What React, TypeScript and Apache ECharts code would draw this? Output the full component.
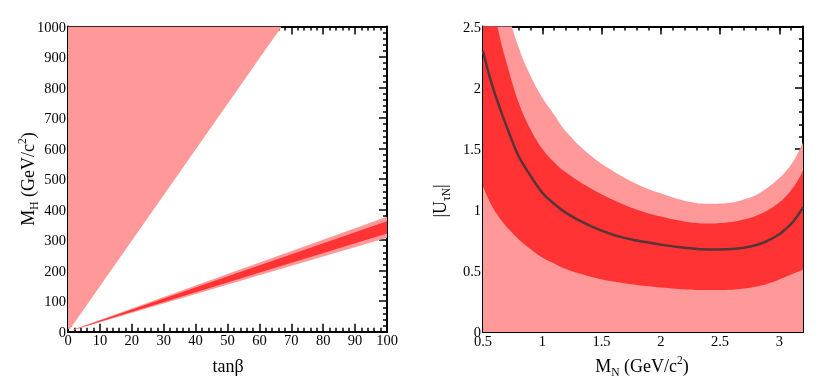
import React, { useEffect, useRef } from "react";
import * as echarts from "echarts";

// ---- Left panel: M_H vs tanβ ----
const TANB = [1.5, 100];
const BAND_OUTER_HI = [6, 377];
const BAND_OUTER_LO = [5, 308];
const BAND_INNER_HI = [5.6, 362];
const BAND_INNER_LO = [5.2, 322];
const EXCL_TANB = [0, 0, 67, 0.7];
const EXCL_MH = [10, 1000, 1000, 10];

// ---- Right panel: |U_τN| vs M_N ----
const MN = [0.5, 0.55, 0.6, 0.65, 0.7, 0.8, 0.9, 1.0, 1.1, 1.2, 1.4, 1.6, 1.8, 2.0, 2.2, 2.4, 2.6, 2.7, 2.8, 2.9, 3.0, 3.05, 3.1, 3.15, 3.2];
const U_CENTRAL = [2.3, 2.11, 1.95, 1.81, 1.68, 1.44, 1.28, 1.14, 1.05, 0.975, 0.87, 0.795, 0.748, 0.715, 0.69, 0.675, 0.68, 0.69, 0.71, 0.745, 0.8, 0.84, 0.885, 0.945, 1.02];
const U_INNER_HI = [3.1, 2.85, 2.6, 2.38, 2.2, 1.88, 1.66, 1.5, 1.39, 1.305, 1.18, 1.08, 1.0, 0.945, 0.905, 0.888, 0.9, 0.92, 0.95, 0.995, 1.06, 1.105, 1.16, 1.23, 1.32];
const U_INNER_LO = [1.19, 1.08, 0.99, 0.92, 0.86, 0.76, 0.68, 0.61, 0.56, 0.515, 0.455, 0.413, 0.385, 0.365, 0.35, 0.343, 0.345, 0.355, 0.37, 0.395, 0.43, 0.45, 0.47, 0.49, 0.51];
const U_OUTER_HI = [3.8, 3.4, 3.1, 2.85, 2.65, 2.33, 2.1, 1.92, 1.78, 1.64, 1.45, 1.315, 1.21, 1.135, 1.075, 1.05, 1.06, 1.085, 1.12, 1.18, 1.26, 1.31, 1.37, 1.45, 1.55];

const LIGHT = "#ff9999";
const DARK = "#ff3333";
const LINE = "#553535";
const FONT = "Liberation Serif";

function polygon(xi: number, yi: number, xs: number[], ys: number[], color: string, z: number) {
  return {
    type: "custom",
    xAxisIndex: xi,
    yAxisIndex: yi,
    clip: true,
    silent: true,
    z,
    data: [0],
    renderItem: (_p: any, api: any) => {
      const pts = xs.map((x, i) => api.coord([x, ys[i]]));
      return { type: "polygon", shape: { points: pts }, style: { fill: color } };
    },
  };
}

function area(ys: number[], color: string, z: number) {
  return {
    type: "line",
    xAxisIndex: 2,
    yAxisIndex: 2,
    data: MN.map((x, i) => [x, ys[i]]),
    smooth: 0.4,
    symbol: "none",
    showSymbol: false,
    clip: true,
    silent: true,
    lineStyle: { width: 0, color },
    areaStyle: { color, opacity: 1, origin: "start" },
    z,
  };
}

const rich = {
  a: { fontSize: 18, fontFamily: FONT, color: "#000", lineHeight: 24 },
  b: { fontSize: 11.5, fontFamily: FONT, color: "#000", lineHeight: 11, verticalAlign: "bottom" },
  c: { fontSize: 11.5, fontFamily: FONT, color: "#000", lineHeight: 11, verticalAlign: "top" },
};

const fmt = (v: number) => String(Math.round(v * 100) / 100);
const fmtMN = (v: number) => (Math.abs(v - 3.2) < 1e-6 ? "" : fmt(v));

function axis(opts: any) {
  const { grid, pos, min, max, interval, labels, minorSplit, tickLen, line, labelMargin, formatter } = opts;
  return {
    type: "value",
    gridIndex: grid,
    position: pos,
    min,
    max,
    interval,
    axisLine: { show: line !== false, onZero: false, lineStyle: { color: "#000", width: 2 } },
    axisTick: { show: true, inside: true, length: tickLen ?? 8, lineStyle: { color: "#000", width: 1.5 } },
    minorTick: minorSplit
      ? { show: true, splitNumber: minorSplit, length: 4, lineStyle: { color: "#000", width: 1.5 } }
      : { show: false },
    axisLabel: labels
      ? { fontFamily: FONT, fontSize: 14.5, color: "#000", margin: labelMargin ?? 2, formatter: formatter ?? fmt }
      : { show: false },
    splitLine: { show: false },
  };
}

export default function App() {
  const ref = useRef<HTMLDivElement>(null);
  useEffect(() => {
    if (!ref.current) return;
    const chart = echarts.init(ref.current, null, { renderer: "svg" });
    const bandX = [...TANB, ...TANB.slice().reverse()];
    const option: any = {
      animation: false,
      grid: [
        { left: 68, top: 26.5, width: 319, height: 305.2 },
        { left: 483, top: 26.5, width: 320, height: 305.5 },
      ],
      xAxis: [
        axis({ grid: 0, pos: "bottom", min: 0, max: 100, interval: 10, labels: true, minorSplit: 5, labelMargin: 1 }),
        axis({ grid: 0, pos: "top", min: 0, max: 100, interval: 10, labels: false, minorSplit: 5 }),
        axis({ grid: 1, pos: "bottom", min: 0.5, max: 3.2, interval: 0.5, labels: true, labelMargin: 1, formatter: fmtMN }),
        axis({ grid: 1, pos: "top", min: 0.5, max: 3.2, interval: 0.5, labels: false }),
        axis({ grid: 1, pos: "bottom", min: 0.5, max: 3.2, interval: 0.1, labels: false, tickLen: 4, line: false }),
        axis({ grid: 1, pos: "top", min: 0.5, max: 3.2, interval: 0.1, labels: false, tickLen: 4, line: false }),
      ],
      yAxis: [
        axis({ grid: 0, pos: "left", min: 0, max: 1000, interval: 100, labels: true, minorSplit: 5, labelMargin: 2 }),
        axis({ grid: 0, pos: "right", min: 0, max: 1000, interval: 100, labels: false, minorSplit: 5 }),
        axis({ grid: 1, pos: "left", min: 0, max: 2.5, interval: 0.5, labels: true, minorSplit: 5, labelMargin: 2 }),
        axis({ grid: 1, pos: "right", min: 0, max: 2.5, interval: 0.5, labels: false, minorSplit: 5 }),
      ],
      series: [
        polygon(0, 0, EXCL_TANB, EXCL_MH, LIGHT, 1),
        polygon(0, 0, bandX, [...BAND_OUTER_HI, ...BAND_OUTER_LO.slice().reverse()], LIGHT, 2),
        polygon(0, 0, bandX, [...BAND_INNER_HI, ...BAND_INNER_LO.slice().reverse()], DARK, 3),
        area(U_OUTER_HI, LIGHT, 1),
        area(U_INNER_HI, DARK, 2),
        area(U_INNER_LO, LIGHT, 3),
        {
          type: "line",
          xAxisIndex: 2,
          yAxisIndex: 2,
          data: MN.map((x, i) => [x, U_CENTRAL[i]]),
          smooth: 0.4,
          showSymbol: false,
          symbol: "none",
          lineStyle: { color: LINE, width: 2.5 },
          z: 5,
          silent: true,
        },
      ],
      graphic: [
        {
          type: "text",
          x: 28,
          y: 179,
          rotation: Math.PI / 2,
          style: { text: "{a|M}{b|H}{a| (GeV/c}{c|2}{a|)}", rich, align: "center", verticalAlign: "middle" },
        },
        {
          type: "text",
          x: 440,
          y: 201,
          rotation: Math.PI / 2,
          style: { text: "{a||U}{b|τN}{a||}", rich, align: "center", verticalAlign: "middle" },
        },
        {
          type: "text",
          x: 228,
          y: 366,
          style: { text: "{a|tanβ}", rich, align: "center", verticalAlign: "middle" },
        },
        {
          type: "text",
          x: 642,
          y: 366,
          style: { text: "{a|M}{b|N}{a| (GeV/c}{c|2}{a|)}", rich, align: "center", verticalAlign: "middle" },
        },
      ],
    };
    chart.setOption(option);
    return () => chart.dispose();
  }, []);
  return <div ref={ref} style={{ position: "fixed", left: 0, top: 0, width: 830, height: 390 }} />;
}
